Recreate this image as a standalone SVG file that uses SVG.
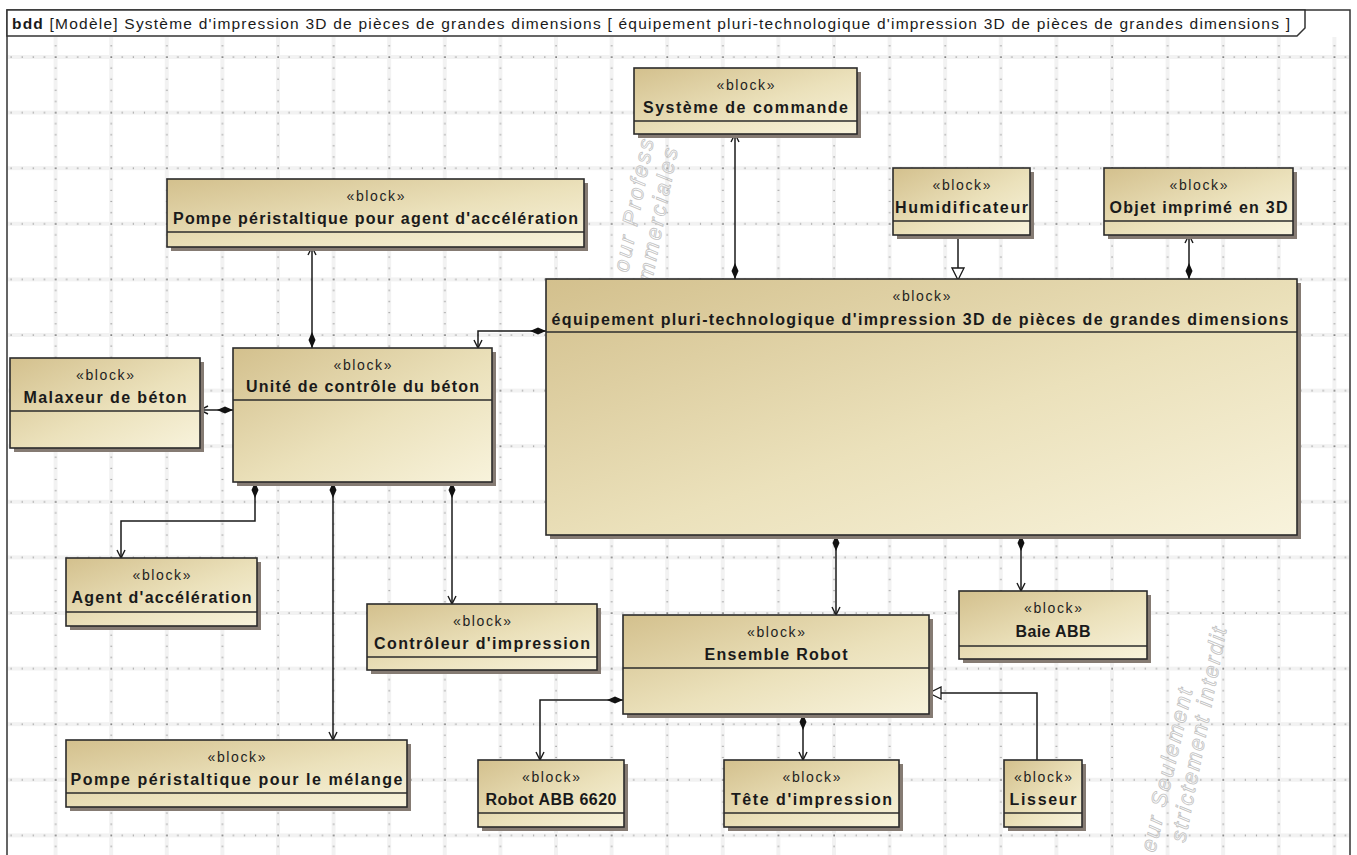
<svg xmlns="http://www.w3.org/2000/svg" width="1357" height="855" viewBox="0 0 1357 855">
<style>
.sh{fill:#857b73}
.box{fill:url(#bg);stroke:#2b2b2b;stroke-width:1.6}
.sep{stroke:#2b2b2b;stroke-width:1.3}
.st{font-family:"Liberation Sans",Arial,sans-serif;font-size:14px;fill:#1e1e1e;text-anchor:middle}
.nm{font-family:"Liberation Sans",Arial,sans-serif;font-size:16px;font-weight:bold;fill:#1a1a1a;text-anchor:middle}
.c{fill:none;stroke:#1a1a1a;stroke-width:1.5}
.comp{marker-start:url(#dia);marker-end:url(#arr)}
.gen{marker-end:url(#tri)}
.wm{font-family:"Liberation Sans",Arial,sans-serif;font-size:22px;font-style:italic;fill:none;stroke:#c2c2c2;stroke-width:0.8}
</style>
<defs>
<linearGradient id="bg" x1="0" y1="0" x2="1" y2="1">
<stop offset="0" stop-color="#d3c08d"/>
<stop offset="0.55" stop-color="#ebe1bb"/>
<stop offset="1" stop-color="#f8f3dc"/>
</linearGradient>
<pattern id="grid" patternUnits="userSpaceOnUse" x="52.6" y="54" width="55.6" height="55.6">
<rect x="1" y="0" width="4" height="55.6" fill="#f2f2f2"/>
<rect x="0" y="1" width="55.6" height="4" fill="#f2f2f2"/>
<rect x="2.4" y="2.4" width="1.4" height="1.4" fill="#444"/>
<rect x="13.5" y="2.5" width="1.1" height="1.1" fill="#777"/>
<rect x="24.6" y="2.5" width="1.1" height="1.1" fill="#777"/>
<rect x="35.7" y="2.5" width="1.1" height="1.1" fill="#777"/>
<rect x="46.9" y="2.5" width="1.1" height="1.1" fill="#777"/>
<rect x="2.5" y="13.5" width="1.1" height="1.1" fill="#777"/>
<rect x="2.5" y="24.6" width="1.1" height="1.1" fill="#777"/>
<rect x="2.5" y="35.7" width="1.1" height="1.1" fill="#777"/>
<rect x="2.5" y="46.9" width="1.1" height="1.1" fill="#777"/>
</pattern>
<marker id="dia" markerUnits="userSpaceOnUse" viewBox="0 0 16 8" refX="16" refY="4" markerWidth="16" markerHeight="8" orient="auto-start-reverse">
<path d="M0,4 L8,0.5 L16,4 L8,7.5 Z" fill="#111"/>
</marker>
<marker id="arr" markerUnits="userSpaceOnUse" viewBox="0 0 10 10" refX="9" refY="5" markerWidth="10" markerHeight="10" orient="auto">
<path d="M1,1 L9,5 L1,9" fill="none" stroke="#1a1a1a" stroke-width="1.4"/>
</marker>
<marker id="tri" markerUnits="userSpaceOnUse" viewBox="0 0 14 14" refX="13" refY="7" markerWidth="14" markerHeight="14" orient="auto">
<path d="M1,1 L13,7 L1,13 Z" fill="#fff" stroke="#1a1a1a" stroke-width="1.3"/>
</marker>
</defs>
<rect x="0" y="0" width="1357" height="855" fill="#fff"/>
<rect x="8" y="37" width="1341" height="818" fill="url(#grid)"/>
<g id="watermark">
<text class="wm" transform="translate(628,273) rotate(-79)" textLength="135">our Profess</text>
<text class="wm" transform="translate(652,282) rotate(-79)" textLength="135">mmerciales</text>
<text class="wm" transform="translate(1155,853) rotate(-77)" textLength="167">eur Seulement</text>
<text class="wm" transform="translate(1185,843) rotate(-79)" textLength="218">strictement interdit</text>
</g>
<g id="frame">
<rect x="7" y="10" width="1343" height="850" fill="none" stroke="#333" stroke-width="1.5"/>
<path d="M7,10 H1305 V28 L1297,36 H7 Z" fill="#fff" stroke="#333" stroke-width="1.5"/>
<text x="12" y="29" font-family="Liberation Sans, Arial, sans-serif" font-size="15.5" fill="#1a1a1a" textLength="1278"><tspan font-weight="bold">bdd</tspan> [Modèle] Système d'impression 3D de pièces de grandes dimensions [ équipement pluri-technologique d'impression 3D de pièces de grandes dimensions ]</text>
</g>
<g id="connectors">
<path class="c comp" d="M735,279 V134"/>
<path class="c comp" d="M312,348 V247"/>
<path class="c gen" d="M958,235 V280"/>
<path class="c comp" d="M1189,279 V235"/>
<path class="c comp" d="M546,331 H478 V348"/>
<path class="c comp" d="M233,410 H200"/>
<path class="c comp" d="M255,482 V521 H121 V558"/>
<path class="c comp" d="M333,482 V740"/>
<path class="c comp" d="M452,482 V604"/>
<path class="c comp" d="M836,535 V615"/>
<path class="c comp" d="M1021,535 V591"/>
<path class="c comp" d="M623,700 H540 V760"/>
<path class="c comp" d="M803,714 V760"/>
<path class="c gen" d="M1037,760 V693 H929"/>
</g>
<g id="systeme-commande">
<rect class="sh" x="638" y="72" width="223" height="66"/>
<rect class="box" x="634" y="68" width="223" height="66"/>
<line class="sep" x1="634" y1="121" x2="857" y2="121"/>
<text class="st" x="745.5" y="90" textLength="58">«block»</text>
<text class="nm" x="745.5" y="113" textLength="205">Système de commande</text>
</g>
<g id="pompe-agent">
<rect class="sh" x="171" y="183" width="417" height="68"/>
<rect class="box" x="167" y="179" width="417" height="68"/>
<line class="sep" x1="167" y1="232" x2="584" y2="232"/>
<text class="st" x="375.5" y="201" textLength="58">«block»</text>
<text class="nm" x="375.5" y="224" textLength="405">Pompe péristaltique pour agent d'accélération</text>
</g>
<g id="humidificateur">
<rect class="sh" x="897" y="172" width="137" height="67"/>
<rect class="box" x="893" y="168" width="137" height="67"/>
<line class="sep" x1="893" y1="221" x2="1030" y2="221"/>
<text class="st" x="961.5" y="190" textLength="58">«block»</text>
<text class="nm" x="961.5" y="213" textLength="133">Humidificateur</text>
</g>
<g id="objet-imprime">
<rect class="sh" x="1108" y="172" width="189" height="67"/>
<rect class="box" x="1104" y="168" width="189" height="67"/>
<line class="sep" x1="1104" y1="221" x2="1293" y2="221"/>
<text class="st" x="1198.5" y="190" textLength="58">«block»</text>
<text class="nm" x="1198.5" y="213" textLength="178">Objet imprimé en 3D</text>
</g>
<g id="equipement">
<rect class="sh" x="550" y="283" width="751" height="256"/>
<rect class="box" x="546" y="279" width="751" height="256"/>
<line class="sep" x1="546" y1="332" x2="1297" y2="332"/>
<text class="st" x="921.5" y="301" textLength="58">«block»</text>
<text class="nm" x="920" y="325" textLength="737">équipement pluri-technologique d'impression 3D de pièces de grandes dimensions</text>
</g>
<g id="unite-controle">
<rect class="sh" x="237" y="352" width="259" height="134"/>
<rect class="box" x="233" y="348" width="259" height="134"/>
<line class="sep" x1="233" y1="400" x2="492" y2="400"/>
<text class="st" x="362.5" y="370" textLength="58">«block»</text>
<text class="nm" x="362.5" y="392" textLength="233">Unité de contrôle du béton</text>
</g>
<g id="malaxeur">
<rect class="sh" x="14" y="362" width="190" height="90"/>
<rect class="box" x="10" y="358" width="190" height="90"/>
<line class="sep" x1="10" y1="411" x2="200" y2="411"/>
<text class="st" x="105" y="380" textLength="58">«block»</text>
<text class="nm" x="105" y="403" textLength="163">Malaxeur de béton</text>
</g>
<g id="agent-acceleration">
<rect class="sh" x="70" y="562" width="191" height="68"/>
<rect class="box" x="66" y="558" width="191" height="68"/>
<line class="sep" x1="66" y1="612" x2="257" y2="612"/>
<text class="st" x="161.5" y="580" textLength="58">«block»</text>
<text class="nm" x="161.5" y="603" textLength="180">Agent d'accélération</text>
</g>
<g id="controleur-impression">
<rect class="sh" x="371" y="608" width="230" height="66"/>
<rect class="box" x="367" y="604" width="230" height="66"/>
<line class="sep" x1="367" y1="657" x2="597" y2="657"/>
<text class="st" x="482" y="626" textLength="58">«block»</text>
<text class="nm" x="482" y="649" textLength="216">Contrôleur d'impression</text>
</g>
<g id="pompe-melange">
<rect class="sh" x="70" y="744" width="341" height="67"/>
<rect class="box" x="66" y="740" width="341" height="67"/>
<line class="sep" x1="66" y1="793" x2="407" y2="793"/>
<text class="st" x="236.5" y="762" textLength="58">«block»</text>
<text class="nm" x="236.5" y="785" textLength="332">Pompe péristaltique pour le mélange</text>
</g>
<g id="ensemble-robot">
<rect class="sh" x="627" y="619" width="306" height="99"/>
<rect class="box" x="623" y="615" width="306" height="99"/>
<line class="sep" x1="623" y1="668" x2="929" y2="668"/>
<text class="st" x="776" y="637" textLength="58">«block»</text>
<text class="nm" x="776" y="660" textLength="143">Ensemble Robot</text>
</g>
<g id="baie-abb">
<rect class="sh" x="963" y="595" width="188" height="68"/>
<rect class="box" x="959" y="591" width="188" height="68"/>
<line class="sep" x1="959" y1="646" x2="1147" y2="646"/>
<text class="st" x="1053" y="613" textLength="58">«block»</text>
<text class="nm" x="1053" y="637" textLength="75">Baie ABB</text>
</g>
<g id="robot-abb">
<rect class="sh" x="482" y="764" width="146" height="67"/>
<rect class="box" x="478" y="760" width="146" height="67"/>
<line class="sep" x1="478" y1="813" x2="624" y2="813"/>
<text class="st" x="551" y="782" textLength="58">«block»</text>
<text class="nm" x="551" y="805" textLength="131">Robot ABB 6620</text>
</g>
<g id="tete-impression">
<rect class="sh" x="728" y="764" width="175" height="67"/>
<rect class="box" x="724" y="760" width="175" height="67"/>
<line class="sep" x1="724" y1="813" x2="899" y2="813"/>
<text class="st" x="811.5" y="782" textLength="58">«block»</text>
<text class="nm" x="811.5" y="805" textLength="161">Tête d'impression</text>
</g>
<g id="lisseur">
<rect class="sh" x="1008" y="764" width="78" height="67"/>
<rect class="box" x="1004" y="760" width="78" height="67"/>
<line class="sep" x1="1004" y1="813" x2="1082" y2="813"/>
<text class="st" x="1043" y="782" textLength="58">«block»</text>
<text class="nm" x="1043" y="805" textLength="67">Lisseur</text>
</g>
</svg>
